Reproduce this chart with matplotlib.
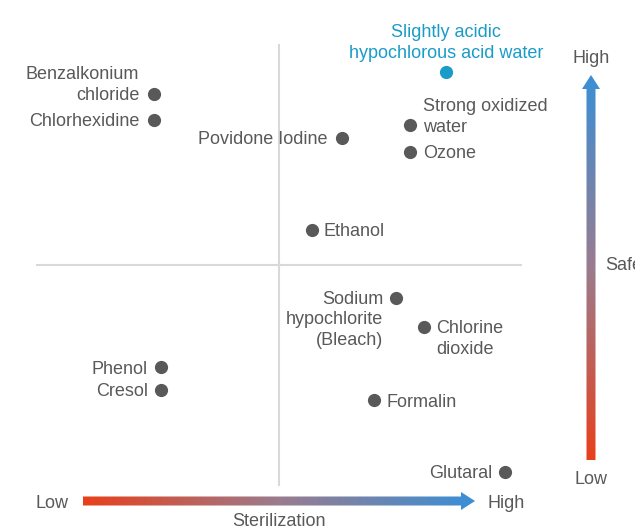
import matplotlib
import matplotlib.pyplot as plt
import numpy as np
from matplotlib.colors import LinearSegmentedColormap
from matplotlib.patches import Polygon

matplotlib.use("Agg")

plt.rcParams["font.family"] = ["Liberation Sans", "DejaVu Sans"]

# disinfectants, scored 0-10 on each axis (5 = quadrant divider)
names = [
    "Slightly acidic\nhypochlorous acid water",
    "Benzalkonium\nchloride",
    "Chlorhexidine",
    "Povidone Iodine",
    "Strong oxidized\nwater",
    "Ozone",
    "Ethanol",
    "Sodium\nhypochlorite\n(Bleach)",
    "Chlorine\ndioxide",
    "Phenol",
    "Cresol",
    "Formalin",
    "Glutaral",
]
sterilization = [8.45, 2.42, 2.42, 6.30, 7.71, 7.71, 5.68, 7.42, 8.00, 2.56, 2.56, 6.96, 9.67]
safety = [9.39, 8.89, 8.30, 7.89, 8.18, 7.57, 5.80, 4.25, 3.59, 2.68, 2.16, 1.93, 0.30]

# label placement: (dx px, dy px, ha, va)
label_pos = {
    "Slightly acidic\nhypochlorous acid water": (0, 10, "center", "bottom"),
    "Benzalkonium\nchloride": (-15, 9, "right", "center"),
    "Chlorhexidine": (-15, -2, "right", "center"),
    "Povidone Iodine": (-14, -2, "right", "center"),
    "Strong oxidized\nwater": (13, 8, "left", "center"),
    "Ozone": (13, -2, "left", "center"),
    "Ethanol": (12, -2, "left", "center"),
    "Sodium\nhypochlorite\n(Bleach)": (-13, -22, "right", "center"),
    "Chlorine\ndioxide": (12, -12, "left", "center"),
    "Phenol": (-13, -2, "right", "center"),
    "Cresol": (-13, -2, "right", "center"),
    "Formalin": (13, -2, "left", "center"),
    "Glutaral": (-13, -2, "right", "center"),
}

TEXT = "#595959"
HIGHLIGHT = "#1a9cc8"
FS = 13


# pixel layout helpers (image is 635 x 529 px)
def px_x(px):
    return (px - 37) / 48.4


def px_y(py):
    return (485 - py) / 44.0


fig = plt.figure(figsize=(6.35, 5.29), dpi=100)
ax = fig.add_axes([0, 0, 1, 1])

# quadrant guides
ax.plot([0, 10], [5, 5], color="#d9d9d9", lw=1.5, zorder=1)
ax.plot([5, 5], [0, 10], color="#d9d9d9", lw=1.5, zorder=1)

for i, (name, sx, sy) in enumerate(zip(names, sterilization, safety)):
    col = HIGHLIGHT if i == 0 else TEXT
    ax.plot(sx, sy, "o", ms=9.5, color=col, mec="none", zorder=3)
    dx, dy, ha, va = label_pos[name]
    ax.annotate(name, (sx, sy), xytext=(dx, dy), textcoords="offset pixels",
                ha=ha, va=va, fontsize=FS, color=col, linespacing=1.3,
                multialignment=ha)

cmap = LinearSegmentedColormap.from_list("rb", ["#e8401c", "#9a7c8e", "#3a8fd6"])


def gradient_arrow(verts_px, vertical):
    verts = [(px_x(a), px_y(b)) for a, b in verts_px]
    poly = Polygon(verts, closed=True, transform=ax.transData, fc="none", ec="none")
    ax.add_patch(poly)
    xs = [v[0] for v in verts]
    ys = [v[1] for v in verts]
    grad = np.linspace(0, 1, 256)
    grad = grad.reshape(-1, 1) if vertical else grad.reshape(1, -1)
    im = ax.imshow(grad, cmap=cmap, aspect="auto", origin="lower",
                   extent=[min(xs), max(xs), min(ys), max(ys)], zorder=2)
    im.set_clip_path(poly)


# sterilization arrow (horizontal)
y0, hw, hh, hl = 501, 4.5, 9, 14
gradient_arrow([(83, y0 - hw), (475 - hl, y0 - hw), (475 - hl, y0 - hh), (475, y0),
                (475 - hl, y0 + hh), (475 - hl, y0 + hw), (83, y0 + hw)], False)
# safety arrow (vertical)
x0 = 591
gradient_arrow([(x0 - hw, 460), (x0 - hw, 75 + hl), (x0 - hh, 75 + hl), (x0, 75),
                (x0 + hh, 75 + hl), (x0 + hw, 75 + hl), (x0 + hw, 460)], True)

ax.text(px_x(52), px_y(503), "Low", ha="center", va="center", fontsize=FS, color=TEXT)
ax.text(px_x(506), px_y(503), "High", ha="center", va="center", fontsize=FS, color=TEXT)
ax.text(px_x(279), px_y(522), "Sterilization", ha="center", va="center", fontsize=FS, color=TEXT)
ax.text(px_x(591), px_y(58), "High", ha="center", va="center", fontsize=FS, color=TEXT)
ax.text(px_x(591), px_y(480), "Low", ha="center", va="center", fontsize=FS, color=TEXT)
ax.text(px_x(605), px_y(265), "Safety", ha="left", va="center", fontsize=FS, color=TEXT)

ax.set_xlim(px_x(0), px_x(635))
ax.set_ylim(px_y(529), px_y(0))
ax.axis("off")

fig.savefig("out.png", dpi=100)
